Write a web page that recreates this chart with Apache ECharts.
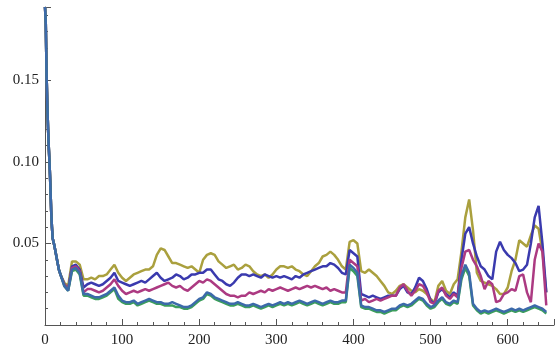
<!DOCTYPE html>
<html>
<head>
<meta charset="utf-8">
<script src="https://cdn.jsdelivr.net/npm/echarts@6/dist/echarts.min.js"></script>
<style>
  html, body { margin: 0; padding: 0; background: #fff; }
  #chart { width: 557px; height: 348px; }
</style>
</head>
<body>
<div id="chart"></div>
<script>
// Step index shared by every series
const steps = [0,1,2,3,4,5,6,7,8,9,10,12,14,16,18,20,
  25,30,35,40,45,50,55,60,65,70,75,80,85,90,95,100,105,110,115,120,125,130,135,140,145,150,
  155,160,165,170,175,180,185,190,195,200,205,210,215,220,225,230,235,240,245,250,255,260,265,270,
  275,280,285,290,295,300,305,310,315,320,325,330,335,340,345,350,355,360,365,370,375,380,385,390,
  395,400,405,410,415,420,425,430,435,440,445,450,455,460,465,470,475,480,485,490,495,500,505,510,
  515,520,525,530,535,540,545,550,555,560,565,570,575,580,585,590,595,600,605,610,615,620,625,630,
  635,640,645,650];

// Common start of all runs (steps 0..20)
const head = [0.195,0.185,0.155,0.135,0.12,0.108,0.098,0.085,0.07,0.06,0.053,0.049,0.044,0.039,0.034,0.031];

const seriesBlue = head.concat([
  0.025,0.022,0.036,0.037,0.034,0.023,0.025,0.026,0.025,0.024,0.025,0.027,0.029,0.032,0.027,0.026,0.025,0.024,0.025,0.026,0.027,0.026,0.028,0.030,0.032,0.029,
  0.027,0.028,0.029,0.031,0.030,0.028,0.029,0.031,0.031,0.032,0.032,0.034,0.034,0.031,0.028,0.027,0.025,0.024,0.026,0.029,0.031,0.031,0.030,0.031,
  0.030,0.029,0.031,0.030,0.029,0.030,0.029,0.030,0.029,0.028,0.030,0.029,0.031,0.032,0.033,0.034,0.035,0.036,0.036,0.038,0.037,0.035,0.032,0.031,
  0.046,0.044,0.042,0.019,0.018,0.017,0.018,0.017,0.016,0.017,0.018,0.018,0.018,0.022,0.024,0.020,0.019,0.023,0.029,0.027,0.022,0.015,0.013,0.020,
  0.022,0.019,0.017,0.020,0.018,0.040,0.056,0.060,0.050,0.042,0.036,0.034,0.030,0.028,0.045,0.051,0.046,0.043,0.041,0.038,0.033,0.034,0.037,0.050,
  0.066,0.073,0.050,0.020]);

const seriesPurple = head.concat([
  0.025,0.022,0.035,0.036,0.033,0.020,0.022,0.022,0.021,0.020,0.021,0.023,0.025,0.028,0.024,0.021,0.019,0.020,0.021,0.020,0.021,0.022,0.021,0.022,0.023,0.024,
  0.025,0.026,0.024,0.023,0.024,0.022,0.021,0.023,0.025,0.027,0.026,0.028,0.027,0.025,0.023,0.021,0.019,0.018,0.018,0.017,0.018,0.018,0.020,0.019,
  0.020,0.021,0.020,0.022,0.021,0.022,0.023,0.022,0.021,0.022,0.023,0.022,0.023,0.024,0.023,0.024,0.023,0.022,0.023,0.021,0.022,0.021,0.020,0.020,
  0.040,0.038,0.036,0.015,0.016,0.014,0.015,0.016,0.015,0.016,0.017,0.018,0.018,0.023,0.025,0.021,0.018,0.021,0.025,0.024,0.020,0.014,0.013,0.021,
  0.023,0.018,0.016,0.019,0.017,0.035,0.045,0.046,0.040,0.036,0.030,0.022,0.027,0.025,0.014,0.015,0.019,0.020,0.022,0.021,0.030,0.031,0.020,0.014,
  0.040,0.050,0.045,0.012]);

const seriesGold = head.concat([
  0.026,0.024,0.039,0.039,0.037,0.028,0.028,0.029,0.028,0.030,0.030,0.031,0.034,0.037,0.032,0.029,0.027,0.029,0.031,0.032,0.033,0.034,0.034,0.036,0.043,0.047,
  0.046,0.042,0.038,0.038,0.037,0.036,0.035,0.036,0.034,0.032,0.040,0.043,0.044,0.043,0.039,0.037,0.035,0.036,0.037,0.034,0.035,0.037,0.036,0.033,
  0.031,0.030,0.031,0.029,0.031,0.034,0.036,0.036,0.035,0.036,0.034,0.033,0.031,0.030,0.033,0.036,0.038,0.042,0.043,0.045,0.043,0.040,0.036,0.034,
  0.051,0.052,0.050,0.033,0.032,0.034,0.032,0.030,0.027,0.024,0.020,0.019,0.021,0.024,0.025,0.023,0.021,0.020,0.022,0.021,0.019,0.016,0.014,0.024,
  0.027,0.021,0.019,0.025,0.028,0.045,0.066,0.077,0.058,0.032,0.027,0.026,0.025,0.024,0.022,0.019,0.019,0.023,0.033,0.040,0.052,0.050,0.048,0.055,
  0.061,0.059,0.045,0.020]);

const seriesGreen = head.concat([
  0.024,0.021,0.033,0.034,0.031,0.018,0.018,0.017,0.016,0.016,0.017,0.018,0.020,0.022,0.016,0.014,0.013,0.013,0.014,0.012,0.013,0.014,0.015,0.014,0.013,0.013,
  0.012,0.012,0.012,0.011,0.011,0.010,0.010,0.011,0.013,0.015,0.016,0.019,0.018,0.016,0.015,0.014,0.013,0.012,0.012,0.013,0.012,0.011,0.011,0.012,
  0.011,0.010,0.011,0.012,0.011,0.012,0.013,0.012,0.013,0.012,0.013,0.014,0.013,0.012,0.013,0.014,0.013,0.012,0.013,0.014,0.013,0.013,0.014,0.014,
  0.035,0.033,0.030,0.011,0.010,0.010,0.009,0.008,0.008,0.007,0.008,0.009,0.009,0.011,0.012,0.011,0.012,0.014,0.016,0.015,0.012,0.010,0.011,0.014,
  0.016,0.013,0.012,0.014,0.013,0.028,0.035,0.030,0.012,0.009,0.007,0.008,0.007,0.008,0.009,0.008,0.007,0.008,0.009,0.008,0.009,0.008,0.009,0.010,
  0.011,0.010,0.009,0.007]);

const seriesSteel = head.concat([
  0.024,0.021,0.034,0.035,0.032,0.019,0.019,0.018,0.017,0.017,0.018,0.019,0.021,0.023,0.018,0.015,0.014,0.014,0.015,0.013,0.014,0.015,0.016,0.015,0.014,0.014,
  0.013,0.013,0.014,0.013,0.012,0.011,0.011,0.012,0.014,0.016,0.017,0.020,0.019,0.017,0.016,0.015,0.014,0.013,0.013,0.014,0.013,0.012,0.012,0.013,
  0.012,0.011,0.012,0.013,0.012,0.013,0.014,0.013,0.014,0.013,0.014,0.015,0.014,0.013,0.014,0.015,0.014,0.013,0.014,0.015,0.014,0.014,0.015,0.015,
  0.037,0.035,0.032,0.012,0.011,0.011,0.010,0.009,0.009,0.008,0.009,0.010,0.010,0.012,0.013,0.012,0.013,0.015,0.017,0.016,0.013,0.011,0.012,0.015,
  0.017,0.014,0.013,0.015,0.014,0.030,0.037,0.032,0.013,0.010,0.008,0.009,0.008,0.009,0.010,0.009,0.008,0.009,0.010,0.009,0.010,0.009,0.010,0.011,
  0.012,0.011,0.010,0.008]);

const lineColors = ['#3a3aae', '#ac3a82', '#aaa03e', '#3c9e5c', '#3c6aaa'];
const allSeries = [seriesBlue, seriesPurple, seriesGold, seriesGreen, seriesSteel];
// draw order: gold underneath, green/steel on top
const drawOrder = [2, 0, 1, 3, 4];

const chart = echarts.init(document.getElementById('chart'), null, { renderer: 'canvas' });
const font = 'Liberation Serif';

chart.setOption({
  animation: false,
  backgroundColor: '#ffffff',
  grid: { left: 45, right: 3, top: 7, bottom: 17, containLabel: false },
  xAxis: {
    type: 'value', min: 0, max: 660, interval: 100,
    axisLine: { show: true, lineStyle: { color: '#555', width: 1 } },
    axisTick: { show: true, inside: true, length: 6, lineStyle: { color: '#555' } },
    minorTick: { show: true, splitNumber: 5, length: 3, lineStyle: { color: '#555' } },
    splitLine: { show: false },
    axisLabel: {
      fontFamily: font, fontSize: 15, color: '#222', margin: 8,
      formatter: v => (v % 100 === 0 && v <= 600) ? String(v) : ''
    }
  },
  yAxis: {
    type: 'value', min: 0, max: 0.195, interval: 0.05,
    axisLine: { show: true, onZero: false, lineStyle: { color: '#555', width: 1 } },
    axisTick: { show: true, inside: true, length: 6, lineStyle: { color: '#555' } },
    minorTick: { show: true, splitNumber: 5, length: 3, lineStyle: { color: '#555' } },
    splitLine: { show: false },
    axisLabel: {
      fontFamily: font, fontSize: 15, color: '#222', margin: 6,
      formatter: v => {
        const k = Math.round(v * 100);
        if (k === 0 || k % 5 !== 0 || Math.abs(v * 100 - k) > 1e-6) return '';
        return v.toFixed(2);
      }
    }
  },
  series: drawOrder.map(i => ({
    type: 'line',
    data: steps.map((x, j) => [x, allSeries[i][j]]),
    showSymbol: false,
    clip: true,
    lineStyle: { color: lineColors[i], width: 2.5 },
    z: 2
  }))
});
</script>
</body>
</html>
